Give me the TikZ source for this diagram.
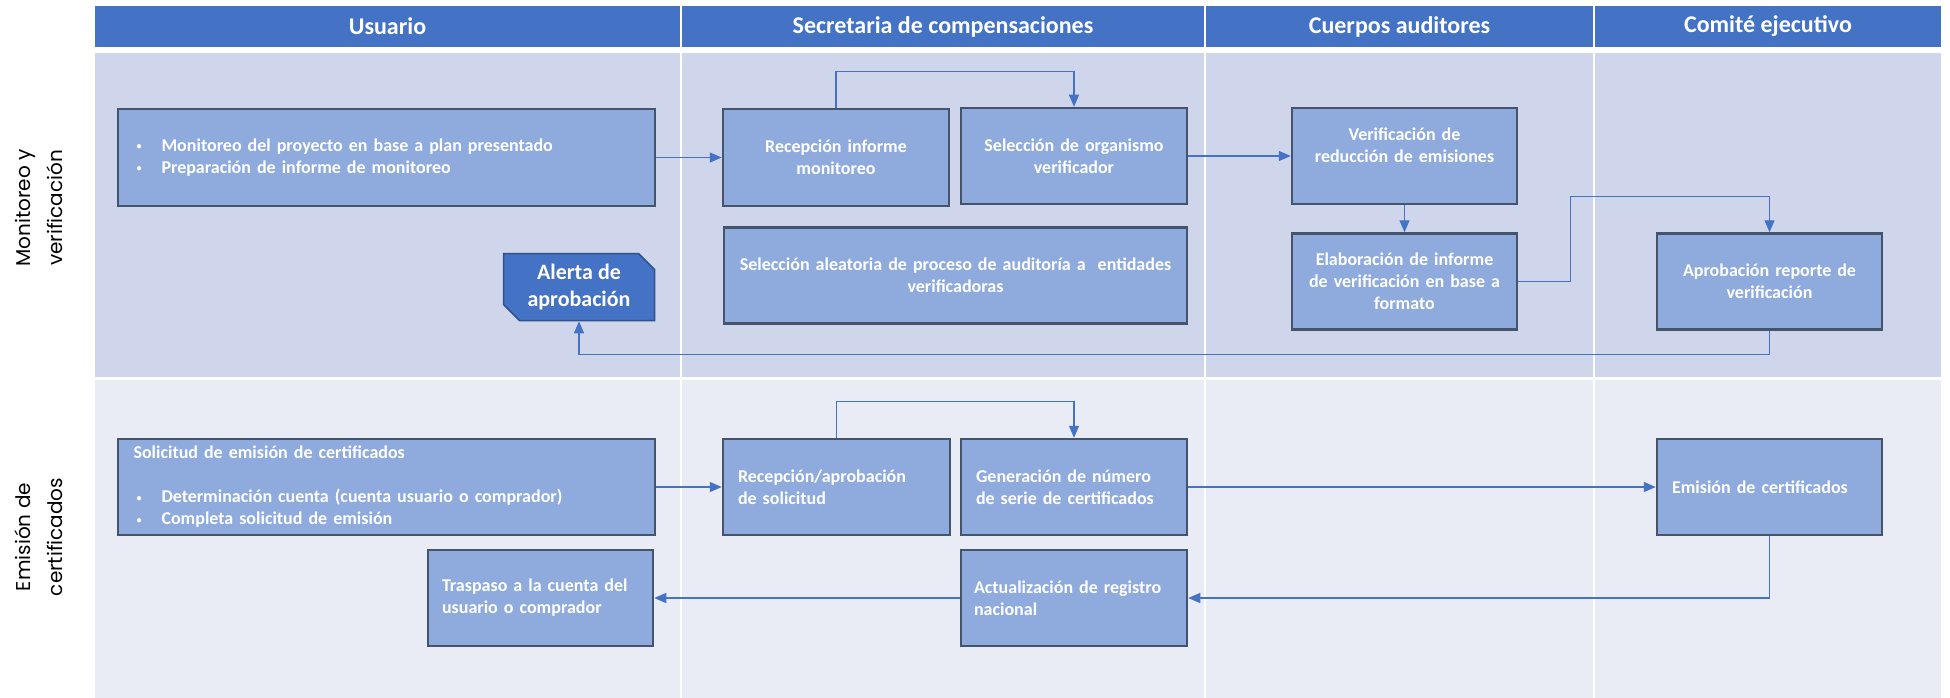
\documentclass[tikz,border=0pt]{standalone}
\usepackage{fontspec}
\setmainfont{Carlito}
\newfontfamily\lanefont{Poppins}
\usetikzlibrary{arrows.meta,shapes.misc}
\definecolor{hdrblue}{HTML}{4472C4}
\definecolor{laneA}{HTML}{CFD5EA}
\definecolor{laneB}{HTML}{E9EBF5}
\definecolor{boxfill}{HTML}{8FAADC}
\definecolor{boxline}{HTML}{44546A}
\definecolor{alertline}{HTML}{2F528F}
\newcommand{\bul}{\makebox[25pt][l]{\raisebox{1.5pt}{\fontsize{10}{10}\selectfont\textbullet}}}

\begin{document}
\begin{tikzpicture}[x=1pt,y=-1pt]
        \tikzstyle{hdr}=[fill=hdrblue,text=white,inner sep=0pt,minimum height=41pt,font=\fontsize{24}{28}\selectfont\bfseries]
        \tikzstyle{lanelbl}=[rotate=90,align=center,inner sep=0pt,font=\lanefont\fontsize{20}{32}\selectfont]
        \tikzstyle{box}=[draw=boxline,line width=2.5pt,fill=boxfill,text=white,inner sep=0pt,minimum height=96pt,font=\fontsize{18}{22}\selectfont\bfseries]
        \tikzstyle{boxc}=[box,align=center]
        \tikzstyle{boxl}=[box,align=left]
        \tikzstyle{alert}=[chamfered rectangle,chamfered rectangle corners={north east,south west},chamfered rectangle xsep=8pt,chamfered rectangle ysep=8pt,draw=alertline,line width=1.5pt,fill=hdrblue,text=white,inner sep=0pt,minimum width=151pt,minimum height=67pt,align=center,font=\fontsize{22}{27}\selectfont\bfseries]
        \tikzstyle{arr}=[draw=hdrblue,line width=1.2pt,-{Triangle[length=12pt,width=10pt]}]
        \useasboundingbox (0,0) rectangle (1950,698);
        \foreach \xa/\xb/\lbl [count=\i] in {95/680/Usuario,682/1204/Secretaria de compensaciones,1206/1593/Cuerpos auditores,1595/1941/Comité ejecutivo}{
            \fill[laneA] (\xa,53) rectangle (\xb,377);
            \fill[laneB] (\xa,380) rectangle (\xb,698);
            \node[hdr,minimum width=\xb-\xa] (hd\i) at ({(\xa+\xb)/2},26.5) {\lbl};
        }
        \node[lanelbl] (ln1) at (39,208) {Monitoreo y\\verificación};
        \node[lanelbl] (ln2) at (39,537) {Emisión de\\certificados};

        \node[boxl,minimum width=537pt,minimum height=97pt,text width=500pt] (mon) at (386.5,157.5) {\bul Monitoreo del proyecto en base a plan presentado\\\bul Preparación de informe de monitoreo};
        \node[boxc,minimum width=226pt,minimum height=97pt,text width=210pt] (rec) at (836,157.5) {Recepción informe\\monitoreo};
        \node[boxc,minimum width=226pt,text width=210pt] (sel) at (1074,156) {Selección de organismo\\verificador};
        \node[boxc,minimum width=463pt,text width=450pt] (azar) at (955.5,275.5) {Selección aleatoria de proceso de auditoría a~ entidades\\verificadoras};
        \node[boxc,minimum width=225pt,text width=210pt] (ver) at (1404.5,156) {Verificación de\\reducción de emisiones\\\mbox{}};
        \node[boxc,minimum width=225pt,text width=215pt] (ela) at (1404.5,281.5) {Elaboración de informe\\de verificación en base a\\formato};
        \node[boxc,minimum width=225pt,text width=210pt] (apr) at (1769.5,281.5) {Aprobación reporte de\\verificación};
        \node[alert] (alr) at (579,287) {Alerta de\\aprobación};

        \node[boxl,minimum width=537pt,text width=500pt] (sol) at (386.5,487) {\hspace*{-3pt}Solicitud de emisión de certificados\\[22pt]\bul Determinación cuenta (cuenta usuario o comprador)\\\bul Completa solicitud de emisión};
        \node[boxl,minimum width=227pt,text width=197pt] (recs) at (836.5,487) {Recepción/aprobación\\de solicitud};
        \node[boxl,minimum width=226pt,text width=196pt] (gen) at (1074,487) {Generación de número\\de serie de certificados};
        \node[boxl,minimum width=226pt,text width=200pt] (act) at (1074,598) {Actualización de registro\\nacional};
        \node[boxl,minimum width=225pt,text width=197pt] (tra) at (540.5,598) {Traspaso a la cuenta del\\usuario o comprador};
        \node[boxl,minimum width=225pt,text width=195pt] (emi) at (1769.5,487) {Emisión de certificados};

        \draw[arr] (mon.east) -- (rec.west);
        \draw[arr] (rec.north) -- ++(0,-36) -| (sel.north);
        \draw[arr] (sel.east) -- (ver.west);
        \draw[arr] (ver.south) -- (ela.north);
        \draw[arr] (ela.east) -- ++(52,0) |- ++(100,-85) -| (apr.north);
        \draw[arr] (apr.south) -- ++(0,24) -| (alr.south);
        \draw[arr] (sol.east) -- (recs.west);
        \draw[arr] (recs.north) -- ++(0,-36) -| (gen.north);
        \draw[arr] (gen.east) -- (emi.west);
        \draw[arr] (emi.south) |- (act.east);
        \draw[arr] (act.west) -- (tra.east);
    \end{tikzpicture}
\end{document}
